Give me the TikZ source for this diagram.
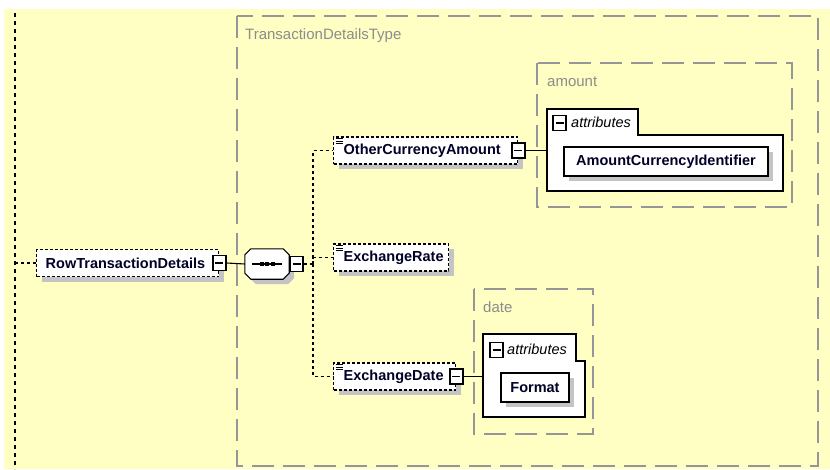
\documentclass[tikz,border=0pt]{standalone}
\usepackage{fontspec}
\setmainfont{Liberation Sans}
\usetikzlibrary{shadows}
\usetikzlibrary{calc}

\definecolor{bgyellow}{RGB}{255,255,196}
\definecolor{grpgray}{RGB}{150,150,150}
\definecolor{lblgray}{RGB}{140,140,140}
\definecolor{shadowgray}{RGB}{196,196,196}
\definecolor{nametext}{RGB}{0,0,40}

\tikzset{
  shade box/.style={drop shadow={shadow xshift=5pt,shadow yshift=-5pt,fill=shadowgray,opacity=1}},
  elem/.style={rectangle,draw,dash pattern=on 3pt off 2pt,line width=1.4pt,fill=white,
    inner xsep=10pt,inner ysep=0pt,minimum height=27pt,align=left,anchor=west,
    text=nametext,font=\bfseries\fontsize{14.5}{17}\selectfont,shade box},
  opticon/.style={path picture={\draw[solid,line width=.7pt]
      ([xshift=2pt,yshift=-1.5pt]path picture bounding box.north west) -- ++(7pt,0pt)
      ([xshift=2pt,yshift=-4pt]path picture bounding box.north west) -- ++(7pt,0pt)
      ([xshift=2pt,yshift=-6.5pt]path picture bounding box.north west) -- ++(7pt,0pt);}},
  minusbox/.style={rectangle,draw,solid,line width=1.6pt,fill=white,inner sep=0pt,
    minimum width=13pt,minimum height=15pt,
    path picture={\draw[line width=1.1pt] ([xshift=-4pt]path picture bounding box.center)
      -- ([xshift=4pt]path picture bounding box.center);}},
  seqnode/.style={rectangle,inner sep=0pt,minimum width=44pt,minimum height=30pt},
  seqline/.style={draw,solid,line width=1.1pt,fill=white},
  attrbox/.style={rectangle,draw,solid,line width=1.3pt,fill=white,inner sep=0pt,
    minimum height=29pt,text=nametext,font=\bfseries\fontsize{14.5}{17}\selectfont,shade box},
  tabline/.style={draw,solid,line width=1.3pt,fill=white},
  grpbox/.style={draw=grpgray,line width=1.3pt,dash pattern=on 22pt off 9pt},
  grplabel/.style={anchor=west,inner sep=0pt,text=lblgray,font=\fontsize{15}{18}\selectfont},
  attrlabel/.style={anchor=west,inner sep=0pt,font=\itshape\fontsize{14.5}{17}\selectfont},
  conn/.style={line width=1.1pt,solid},
  dconn/.style={line width=1.1pt,dash pattern=on 3pt off 3pt}
}

\begin{document}
\begin{tikzpicture}[x=1pt,y=-1pt]
  \useasboundingbox (0,0) rectangle (830,469);
  \fill[bgyellow] (4,9) rectangle (830,469);
  %PARENT LINE
  \draw[dconn,dash pattern=on 4pt off 4pt] (15,13) -- (15,469);
  %TYPE BOX
  \draw[grpbox] (237,16) rectangle (818,466);
  \node[grplabel] (TDTlbl) at (245,36) {TransactionDetailsType};

  %ROOT ELEMENT
  \node[elem,inner xsep=9pt,text width=164pt] (RTD) at (36,263) {RowTransactionDetails};
  \node[minusbox] (RTDm) at (RTD.east) {};
  \coordinate (L0) at (15,263);
  \draw[dconn] (L0) -- (RTD.west);

  %SEQUENCE
  \node[seqnode] (SEQ) at (267,264) {};
  \fill[shadowgray] ($(SEQ.north west)+(11,5)$) -- ($(SEQ.north east)+(-1,5)$)
    -- ($(SEQ.north east)+(5,11)$) -- ($(SEQ.south east)+(5,-1)$)
    -- ($(SEQ.south east)+(-1,5)$) -- ($(SEQ.south west)+(11,5)$)
    -- ($(SEQ.south west)+(5,-1)$) -- ($(SEQ.north west)+(5,11)$) -- cycle;
  \draw[seqline] ($(SEQ.north west)+(6,0)$) -- ($(SEQ.north east)+(-6,0)$)
    -- ($(SEQ.north east)+(0,6)$) -- ($(SEQ.south east)+(0,-6)$)
    -- ($(SEQ.south east)+(-6,0)$) -- ($(SEQ.south west)+(6,0)$)
    -- ($(SEQ.south west)+(0,-6)$) -- ($(SEQ.north west)+(0,6)$) -- cycle;
  \draw[conn] ($(SEQ.center)+(-15,0)$) -- ($(SEQ.center)+(15,0)$);
  \foreach \dx in {-5.5,0,5.5}
    \fill ($(SEQ.center)+(\dx,0)$) +(-2,-2) rectangle +(2,2);
  \node[minusbox,anchor=west] (SEQm) at (SEQ.east) {};
  \draw[conn] (RTDm.east) -- (SEQ.west);

  %CHILD ELEMENTS
  \node[elem,opticon,text width=164pt] (OCA) at (333,150.5) {OtherCurrencyAmount};
  \node[minusbox] (OCAm) at (OCA.east) {};
  \node[elem,opticon,text width=95pt] (ER) at (333,257.5) {ExchangeRate};
  \node[elem,opticon,text width=102pt] (ED) at (333,376.5) {ExchangeDate};
  \node[minusbox] (EDm) at (ED.east) {};
  \coordinate (B0) at (313,264);
  \draw[dconn] (SEQm.east) -- (B0);
  \draw[dconn] (B0) |- (OCA.west);
  \draw[dconn] (B0) |- (ER.west);
  \draw[dconn] (B0) |- (ED.west);

  %AMOUNT TYPE
  \draw[grpbox] (537,63) rectangle (792,207);
  \node[grplabel] (AMlbl) at (547,82) {amount};
  \draw[tabline] (547,191) |- (638,109) |- (783,135) |- (547,191) -- cycle;
  \node[minusbox] (AT1m) at (559.5,123) {};
  \node[attrlabel] (AT1) at (571,122) {attributes};
  \node[attrbox,minimum width=204pt] (ACI) at (666,161.5) {AmountCurrencyIdentifier};
  \coordinate (AG1) at (547,151);
  \draw[conn] (OCAm.east) -- (OCAm.east -| AG1);

  %DATE TYPE
  \draw[grpbox] (474,289) rectangle (593,434);
  \node[grplabel] (DTlbl) at (483,307) {date};
  \draw[tabline] (483,417) |- (576,334) |- (585,361) |- (483,417) -- cycle;
  \node[minusbox] (AT2m) at (496.5,350) {};
  \node[attrlabel] (AT2) at (507,349) {attributes};
  \node[attrbox,minimum width=68pt] (FMT) at (535,387.5) {Format};
  \coordinate (AG2) at (483,377);
  \draw[conn] (EDm.east) -- (EDm.east -| AG2);
\end{tikzpicture}
\end{document}
